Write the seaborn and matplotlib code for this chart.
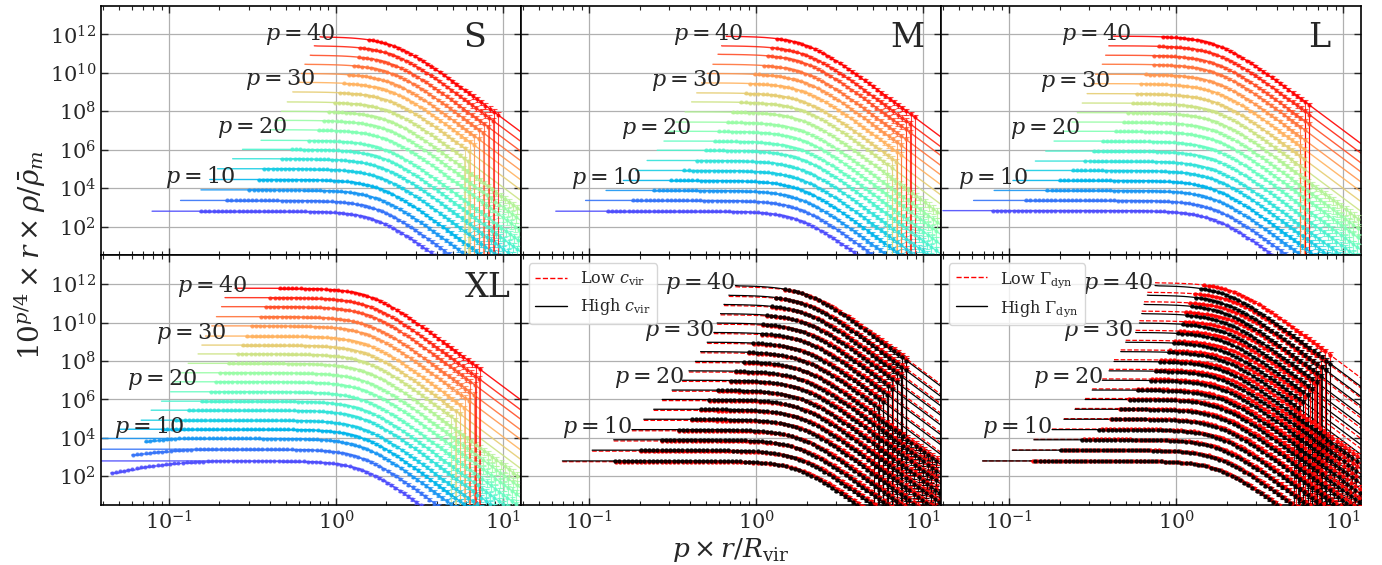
import numpy as np
import pandas as pd
import matplotlib
matplotlib.use("Agg")
import matplotlib.pyplot as plt
import seaborn as sns
from matplotlib.lines import Line2D
from matplotlib.ticker import LogLocator, NullLocator

# stacked profiles, one per p
P_VALUES = [4, 6, 8, 10, 12, 14, 16, 18, 20, 22, 24, 26, 28, 30, 32, 34, 36, 38, 40]
LABELLED_P = [10, 20, 30, 40]

# profile shape: u = log10(x / x_knee), drop in dex below the plateau
SHAPE_U = [-1.600, -1.575, -1.550, -1.525, -1.500, -1.475, -1.450, -1.425, -1.400, -1.375,
           -1.350, -1.325, -1.300, -1.275, -1.250, -1.225, -1.200, -1.175, -1.150, -1.125,
           -1.100, -1.075, -1.050, -1.025, -1.000, -0.975, -0.950, -0.925, -0.900, -0.875,
           -0.850, -0.825, -0.800, -0.775, -0.750, -0.725, -0.700, -0.675, -0.650, -0.625,
           -0.600, -0.575, -0.550, -0.525, -0.500, -0.475, -0.450, -0.425, -0.400, -0.375,
           -0.350, -0.325, -0.300, -0.275, -0.250, -0.225, -0.200, -0.175, -0.150, -0.125,
           -0.100, -0.075, -0.050, -0.025, 0.000, 0.025, 0.050, 0.075, 0.100, 0.125,
           0.150, 0.175, 0.200, 0.225, 0.250, 0.275, 0.300, 0.325, 0.350, 0.375,
           0.400, 0.425, 0.450, 0.475, 0.500, 0.525, 0.550, 0.575, 0.600, 0.625,
           0.650, 0.675, 0.700, 0.725, 0.750, 0.775, 0.800, 0.825, 0.850, 0.875,
           0.900, 0.925, 0.950, 0.975, 1.000, 1.025, 1.050, 1.075, 1.100, 1.125,
           1.150, 1.175, 1.200]
SHAPE_DY = [0.0, 0.0, 0.0, 0.0, 0.0, 0.0, 0.0, 0.0, 0.0, 0.0,
            0.0, 0.0, 0.0, 0.0, 0.0, 0.0, 0.0, 0.0, 0.0, 0.0,
            0.0, 0.0, 0.0, 0.0, 0.0, 0.0, 0.0, 0.0, 0.0, 0.0,
            0.0, 0.0, 0.0, 0.0, 0.0, -0.001, -0.001, -0.001, -0.002, -0.002,
            -0.003, -0.004, -0.004, -0.006, -0.007, -0.009, -0.011, -0.014, -0.018, -0.022,
            -0.028, -0.035, -0.043, -0.054, -0.067, -0.084, -0.104, -0.128, -0.158, -0.194,
            -0.236, -0.287, -0.345, -0.413, -0.489, -0.575, -0.670, -0.774, -0.887, -1.006,
            -1.133, -1.266, -1.404, -1.546, -1.692, -1.841, -1.993, -2.147, -2.303, -2.459,
            -2.618, -2.776, -2.936, -3.096, -3.257, -3.418, -3.580, -3.741, -3.903, -4.065,
            -4.227, -4.388, -4.551, -4.713, -4.876, -5.038, -5.200, -5.363, -5.525, -5.688,
            -5.850, -6.013, -6.175, -6.338, -6.500, -6.663, -6.825, -6.988, -7.150, -7.313,
            -7.475, -7.638, -7.800]
# relative error of each point along the profile
ERR_FRAC = [0.08, 0.08, 0.08, 0.08, 0.07, 0.07, 0.07, 0.07, 0.06, 0.06,
            0.06, 0.06, 0.05, 0.05, 0.05, 0.05, 0.05, 0.05, 0.05, 0.05,
            0.05, 0.05, 0.05, 0.05, 0.05, 0.05, 0.05, 0.05, 0.05, 0.05,
            0.05, 0.05, 0.05, 0.05, 0.05, 0.05, 0.05, 0.05, 0.05, 0.05,
            0.05, 0.05, 0.05, 0.05, 0.05, 0.05, 0.05, 0.05, 0.05, 0.05,
            0.05, 0.05, 0.05, 0.05, 0.05, 0.05, 0.05, 0.06, 0.06, 0.06,
            0.06, 0.07, 0.07, 0.07, 0.07, 0.08, 0.08, 0.08, 0.09, 0.09,
            0.10, 0.10, 0.11, 0.12, 0.13, 0.14, 0.15, 0.16, 0.17, 0.18,
            0.20, 0.21, 0.23, 0.24, 0.26, 0.28, 0.30, 0.32, 0.34, 0.36,
            0.38, 0.40, 0.42, 0.44, 0.47, 0.49, 0.52, 0.54, 0.57, 0.60,
            0.62, 0.65, 0.68, 0.71, 0.74, 0.77, 0.80, 0.83, 0.86, 0.88,
            0.90, 0.92, 0.94]
# XL only: innermost measured points of the lowest curves sit below the plateau (dex)
XL_INNER_P4 = [-0.62, -0.58, -0.54, -0.50, -0.46, -0.42, -0.38, -0.34, -0.31, -0.28,
               -0.25, -0.22, -0.19, -0.17, -0.15, -0.13, -0.11, -0.09, -0.07, -0.06,
               -0.05, -0.04, -0.03, -0.02]
XL_INNER_P6 = [-0.30, -0.27, -0.24, -0.21, -0.18, -0.16, -0.14, -0.12, -0.10, -0.08,
               -0.06, -0.05, -0.04, -0.03, -0.02]
XL_INNER_P8 = [-0.15, -0.12, -0.10, -0.08, -0.06, -0.04, -0.03, -0.02]

# plateau level (log10) of each curve
S_PLATEAU = [2.80, 3.36, 3.91, 4.45, 5.01, 5.53, 6.02, 6.49, 7.04, 7.53, 8.00, 8.49, 9.01, 9.51, 9.97, 10.45, 10.92, 11.41, 11.88]
M_PLATEAU = [2.80, 3.36, 3.88, 4.40, 4.92, 5.44, 5.97, 6.45, 6.96, 7.44, 7.97, 8.49, 8.96, 9.48, 9.97, 10.45, 10.97, 11.41, 11.91]
L_PLATEAU = [2.83, 3.36, 3.88, 4.40, 4.92, 5.41, 5.93, 6.45, 6.96, 7.44, 7.93, 8.43, 8.92, 9.44, 9.93, 10.45, 10.92, 11.41, 11.91]
XL_PLATEAU = [2.80, 3.41, 3.97, 4.45, 4.92, 5.44, 5.91, 6.40, 6.92, 7.39, 7.88, 8.37, 8.83, 9.30, 9.83, 10.31, 10.83, 11.30, 11.79]
C_HIGH_PLATEAU = [2.80, 3.36, 3.90, 4.43, 4.97, 5.49, 6.00, 6.49, 7.00, 7.49, 7.98, 8.49, 8.98, 9.49, 9.98, 10.47, 10.95, 11.43, 11.93]
C_LOW_PLATEAU = [2.76, 3.31, 3.84, 4.37, 4.91, 5.43, 5.94, 6.43, 6.94, 7.43, 7.92, 8.43, 8.92, 9.43, 9.92, 10.41, 10.89, 11.37, 11.87]
G_HIGH_PLATEAU = [2.80, 3.36, 3.90, 4.43, 4.97, 5.49, 6.00, 6.49, 7.00, 7.49, 7.98, 8.49, 8.98, 9.49, 9.98, 10.47, 10.95, 11.43, 11.93]
G_LOW_PLATEAU = [2.80, 3.37, 3.92, 4.46, 5.00, 5.53, 6.05, 6.55, 7.07, 7.57, 8.07, 8.58, 9.08, 9.60, 10.10, 10.60, 11.09, 11.58, 12.08]

# knee position (x where the profile has dropped by ~0.5 dex)
S_KNEE = [1.74, 1.77, 1.80, 1.83, 1.86, 1.89, 1.92, 1.95, 1.98, 2.01, 2.04, 2.07, 2.09, 2.11, 2.13, 2.15, 2.17, 2.19, 2.21]
M_KNEE = [1.82, 1.83, 1.84, 1.85, 1.86, 1.87, 1.88, 1.89, 1.90, 1.91, 1.92, 1.93, 1.94, 1.95, 1.96, 1.97, 1.97, 1.98, 1.99]
L_KNEE = [1.68, 1.68, 1.69, 1.69, 1.70, 1.70, 1.71, 1.71, 1.72, 1.72, 1.73, 1.73, 1.74, 1.74, 1.75, 1.75, 1.75, 1.76, 1.76]
XL_KNEE = [1.43, 1.44, 1.45, 1.46, 1.47, 1.48, 1.49, 1.50, 1.51, 1.52, 1.53, 1.54, 1.55, 1.56, 1.57, 1.58, 1.60, 1.61, 1.63]
C_HIGH_KNEE = [1.80, 1.81, 1.82, 1.83, 1.84, 1.85, 1.86, 1.87, 1.88, 1.89, 1.90, 1.91, 1.92, 1.93, 1.94, 1.95, 1.96, 1.97, 1.99]
C_LOW_KNEE = [1.92, 1.93, 1.94, 1.95, 1.96, 1.97, 1.98, 1.99, 2.00, 2.01, 2.02, 2.03, 2.04, 2.05, 2.06, 2.07, 2.08, 2.09, 2.10]
G_HIGH_KNEE = [1.80, 1.81, 1.82, 1.83, 1.84, 1.85, 1.86, 1.87, 1.88, 1.89, 1.90, 1.91, 1.92, 1.93, 1.94, 1.95, 1.96, 1.97, 1.98]
G_LOW_KNEE = [1.84, 1.86, 1.88, 1.90, 1.92, 1.94, 1.96, 1.98, 2.00, 2.02, 2.04, 2.06, 2.08, 2.10, 2.12, 2.14, 2.16, 2.18, 2.20]

# left end of each model line
S_LINE_START = [0.079, 0.117, 0.155, 0.175, 0.195, 0.24, 0.275, 0.355, 0.40, 0.43, 0.47, 0.51, 0.55, 0.60, 0.62, 0.65, 0.70, 0.74, 0.80]
M_LINE_START = [0.063, 0.095, 0.126, 0.16, 0.19, 0.222, 0.255, 0.28, 0.30, 0.33, 0.375, 0.41, 0.44, 0.47, 0.51, 0.55, 0.59, 0.62, 0.66]
L_LINE_START = [0.04, 0.061, 0.081, 0.105, 0.125, 0.143, 0.165, 0.185, 0.21, 0.237, 0.255, 0.273, 0.292, 0.31, 0.328, 0.36, 0.377, 0.394, 0.42]
XL_LINE_START = [0.03, 0.035, 0.04, 0.05, 0.068, 0.078, 0.09, 0.102, 0.105, 0.118, 0.13, 0.149, 0.157, 0.165, 0.18, 0.192, 0.206, 0.216, 0.248]
C_LINE_START = [0.069, 0.104, 0.14, 0.18, 0.212, 0.243, 0.273, 0.313, 0.36, 0.395, 0.432, 0.464, 0.508, 0.557, 0.583, 0.611, 0.64, 0.685, 0.75]
G_LINE_START = [0.069, 0.104, 0.14, 0.18, 0.212, 0.247, 0.284, 0.313, 0.36, 0.395, 0.423, 0.464, 0.497, 0.57, 0.60, 0.62, 0.64, 0.67, 0.745]

# first and last measured point of each curve
S_DATA_START = [0.15, 0.22, 0.29, 0.33, 0.37, 0.45, 0.52, 0.66, 0.75, 0.81, 0.88, 0.95, 1.02, 1.10, 1.15, 1.22, 1.30, 1.38, 1.55]
M_DATA_START = [0.123, 0.18, 0.24, 0.31, 0.37, 0.43, 0.49, 0.54, 0.58, 0.64, 0.72, 0.79, 0.85, 0.91, 0.98, 1.06, 1.13, 1.20, 1.29]
L_DATA_START = [0.079, 0.12, 0.16, 0.20, 0.24, 0.28, 0.32, 0.36, 0.41, 0.46, 0.50, 0.53, 0.57, 0.60, 0.64, 0.70, 0.73, 0.77, 0.82]
XL_DATA_START = [0.045, 0.06, 0.07, 0.09, 0.11, 0.13, 0.15, 0.17, 0.18, 0.20, 0.22, 0.25, 0.27, 0.29, 0.31, 0.34, 0.37, 0.40, 0.45]
C_DATA_START = [0.137, 0.20, 0.27, 0.34, 0.40, 0.46, 0.52, 0.59, 0.67, 0.74, 0.81, 0.87, 0.95, 1.03, 1.08, 1.14, 1.20, 1.30, 1.43]
G_DATA_START = [0.137, 0.20, 0.27, 0.34, 0.40, 0.46, 0.52, 0.59, 0.67, 0.74, 0.80, 0.87, 0.93, 1.02, 1.08, 1.13, 1.19, 1.28, 1.40]

S_DATA_END = [12.5, 12.5, 12.5, 12.5, 12.5, 12.5, 12.5, 12.5, 12.5, 12.5, 12.5, 6.3, 6.6, 6.9, 7.3, 7.8, 8.3, 8.8, 9.4]
M_DATA_END = [12.5, 12.5, 12.5, 12.5, 12.5, 12.5, 12.5, 12.5, 12.5, 12.5, 12.5, 6.8, 7.1, 7.4, 7.8, 8.1, 8.4, 8.7, 9.0]
L_DATA_END = [12.5, 12.5, 12.5, 12.5, 12.5, 12.5, 12.5, 12.5, 12.5, 12.5, 12.5, 5.9, 6.0, 6.0, 6.1, 6.2, 6.3, 6.4, 6.5]
XL_DATA_END = [12.5, 12.5, 12.5, 12.5, 12.5, 12.5, 12.5, 12.5, 12.5, 12.5, 12.5, 5.3, 5.6, 6.0, 6.3, 6.7, 7.0, 7.4, 7.7]
C_DATA_END = [12.5, 12.5, 12.5, 12.5, 12.5, 12.5, 12.5, 12.5, 12.5, 12.5, 12.5, 5.5, 5.9, 6.3, 6.7, 7.1, 7.5, 7.9, 8.3]
G_DATA_END = [12.5, 12.5, 12.5, 12.5, 12.5, 12.5, 12.5, 12.5, 12.5, 12.5, 12.5, 5.5, 6.0, 6.4, 6.8, 7.2, 7.6, 8.0, 8.5]

# right end of the "p = .." labels, for p = 10, 20, 30, 40
S_LABEL_X = [0.248, 0.506, 0.748, 0.99]
M_LABEL_X = [0.204, 0.41, 0.62, 0.83]
L_LABEL_X = [0.13, 0.267, 0.40, 0.54]
XL_LABEL_X = [0.123, 0.148, 0.22, 0.295]
C_LABEL_X = [0.182, 0.368, 0.557, 0.745]
G_LABEL_X = [0.18, 0.363, 0.55, 0.73]

PANEL_NAMES = ["S", "M", "L", "XL"]
PANEL_NAME_X = [0.89, 0.92, 0.90, 0.92]

u_grid = np.array(SHAPE_U)
dy_grid = np.array(SHAPE_DY)
err_grid = np.array(ERR_FRAC)
assert len(u_grid) == len(dy_grid) == len(err_grid)


def build_curves(plateau, knee, line_start, data_start, data_end, inner=None):
    inner = inner or {}
    lines, points = [], []
    for i, p in enumerate(P_VALUES):
        x = knee[i] * 10.0 ** u_grid
        y = 10.0 ** (plateau[i] + dy_grid)
        keep = x > line_start[i]
        lines.append(pd.DataFrame({"x": np.r_[line_start[i], x[keep]],
                                   "y": np.r_[10.0 ** plateau[i], y[keep]],
                                   "p": p}))
        sel = (x >= data_start[i]) & (x <= data_end[i])
        yd = y[sel].copy()
        if p in inner:
            n = min(len(inner[p]), len(yd))
            yd[:n] *= 10.0 ** np.array(inner[p][:n])
        frac = err_grid[sel].copy()
        hi = frac.copy()
        if p >= 26:
            # outermost bins: lower error reaches zero
            frac[-2:] = 1.0
        points.append(pd.DataFrame({"x": x[sel], "y": yd,
                                    "lo": yd * frac, "hi": yd * hi, "p": p}))
    return pd.concat(lines, ignore_index=True), pd.concat(points, ignore_index=True)


def draw_points(ax, pts, color_of, alpha, ms=2.0):
    for p, grp in pts.groupby("p"):
        c = color_of(p)
        ax.errorbar(grp["x"], grp["y"], yerr=[grp["lo"], grp["hi"]], fmt="o", ms=ms,
                    color=c, ecolor=c, elinewidth=0.8, capsize=1.8, capthick=0.8,
                    alpha=alpha, zorder=3)


def add_p_labels(ax, label_x, plateau):
    for lx, p in zip(label_x, LABELLED_P):
        lvl = plateau[P_VALUES.index(p)]
        ax.text(lx, 10 ** (lvl + 0.12), f"$p = {p}$", ha="right", va="center",
                fontsize=16, zorder=5)


sns.set_style("ticks")
plt.rcParams["font.family"] = ["DejaVu Serif"]
plt.rcParams["mathtext.fontset"] = "dejavuserif"

fig, axes = plt.subplots(2, 3, figsize=(13.82, 5.65), dpi=100, sharex=True, sharey=True)
fig.subplots_adjust(left=0.073, right=0.985, top=0.99, bottom=0.106, hspace=0, wspace=0)

for ax in axes.flat:
    ax.set_xscale("log")
    ax.set_yscale("log")
    ax.set_xlim(0.039, 12.8)
    ax.set_ylim(10 ** 0.5, 10 ** 13.5)
    ax.set_axisbelow(True)

rainbow = plt.cm.rainbow
palette = {p: rainbow(p / 40) for p in P_VALUES}

xl_inner = {4: XL_INNER_P4, 6: XL_INNER_P6, 8: XL_INNER_P8}
coloured = [
    (axes[0, 0], S_PLATEAU, S_KNEE, S_LINE_START, S_DATA_START, S_DATA_END, S_LABEL_X, None),
    (axes[0, 1], M_PLATEAU, M_KNEE, M_LINE_START, M_DATA_START, M_DATA_END, M_LABEL_X, None),
    (axes[0, 2], L_PLATEAU, L_KNEE, L_LINE_START, L_DATA_START, L_DATA_END, L_LABEL_X, None),
    (axes[1, 0], XL_PLATEAU, XL_KNEE, XL_LINE_START, XL_DATA_START, XL_DATA_END, XL_LABEL_X,
     xl_inner),
]
for k, (ax, plat, knee, ls0, ds, de, lab_x, inner) in enumerate(coloured):
    lines, pts = build_curves(plat, knee, ls0, ds, de, inner)
    sns.lineplot(data=lines, x="x", y="y", hue="p", palette=palette, estimator=None,
                 sort=False, legend=False, lw=1.0, alpha=0.9, ax=ax)
    draw_points(ax, pts, lambda p: palette[p], alpha=0.75)
    add_p_labels(ax, lab_x, plat)
    ax.text(PANEL_NAME_X[k], 0.87, PANEL_NAMES[k], transform=ax.transAxes,
            ha="center", va="center", fontsize=24)

paired = [
    (axes[1, 1], (C_LOW_PLATEAU, C_LOW_KNEE), (C_HIGH_PLATEAU, C_HIGH_KNEE),
     C_LINE_START, C_DATA_START, C_DATA_END, C_LABEL_X,
     ["Low $c_{\\rm vir}$", "High $c_{\\rm vir}$"]),
    (axes[1, 2], (G_LOW_PLATEAU, G_LOW_KNEE), (G_HIGH_PLATEAU, G_HIGH_KNEE),
     G_LINE_START, G_DATA_START, G_DATA_END, G_LABEL_X,
     ["Low $\\Gamma_{\\rm dyn}$", "High $\\Gamma_{\\rm dyn}$"]),
]
for ax, low, high, ls0, ds, de, lab_x, names in paired:
    for (plat, knee), col, style in [(low, "red", "--"), (high, "black", "-")]:
        lines, pts = build_curves(plat, knee, ls0, ds, de)
        sns.lineplot(data=lines, x="x", y="y", units="p", estimator=None, sort=False,
                     color=col, ls=style, lw=0.9, legend=False, ax=ax)
        draw_points(ax, pts, lambda p, c=col: c, alpha=0.85, ms=2.2)
    add_p_labels(ax, lab_x, high[0])
    handles = [Line2D([], [], color="red", ls="--", lw=1), Line2D([], [], color="black", lw=1)]
    ax.legend(handles, names, loc="upper left", fontsize=11.5, framealpha=0.8)

for ax in axes.flat:
    ax.set_xlabel("")
    ax.set_ylabel("")
    ax.set_yticks([1e2, 1e4, 1e6, 1e8, 1e10, 1e12])
    ax.yaxis.set_minor_locator(NullLocator())
    ax.xaxis.set_major_locator(LogLocator(base=10, numticks=10))
    ax.xaxis.set_minor_locator(LogLocator(base=10, subs=np.arange(2, 10), numticks=10))
    ax.grid(True, which="major", color="#b0b0b0", lw=0.9)
    ax.tick_params(which="both", direction="in", top=True, right=True, labelsize=15)
    ax.tick_params(which="major", length=5, width=1)
    ax.tick_params(which="minor", length=3, width=0.8)
    for sp in ax.spines.values():
        sp.set_color("black")
        sp.set_linewidth(1.2)

fig.text(0.022, 0.548, "$10^{p/4} \\times r \\times \\rho/\\bar{\\rho}_m$", rotation=90,
         ha="center", va="center", fontsize=20)
fig.text(0.529, 0.027, "$p \\times r/R_{\\rm vir}$", ha="center", va="center", fontsize=19)

fig.savefig("out.png", dpi=100)
